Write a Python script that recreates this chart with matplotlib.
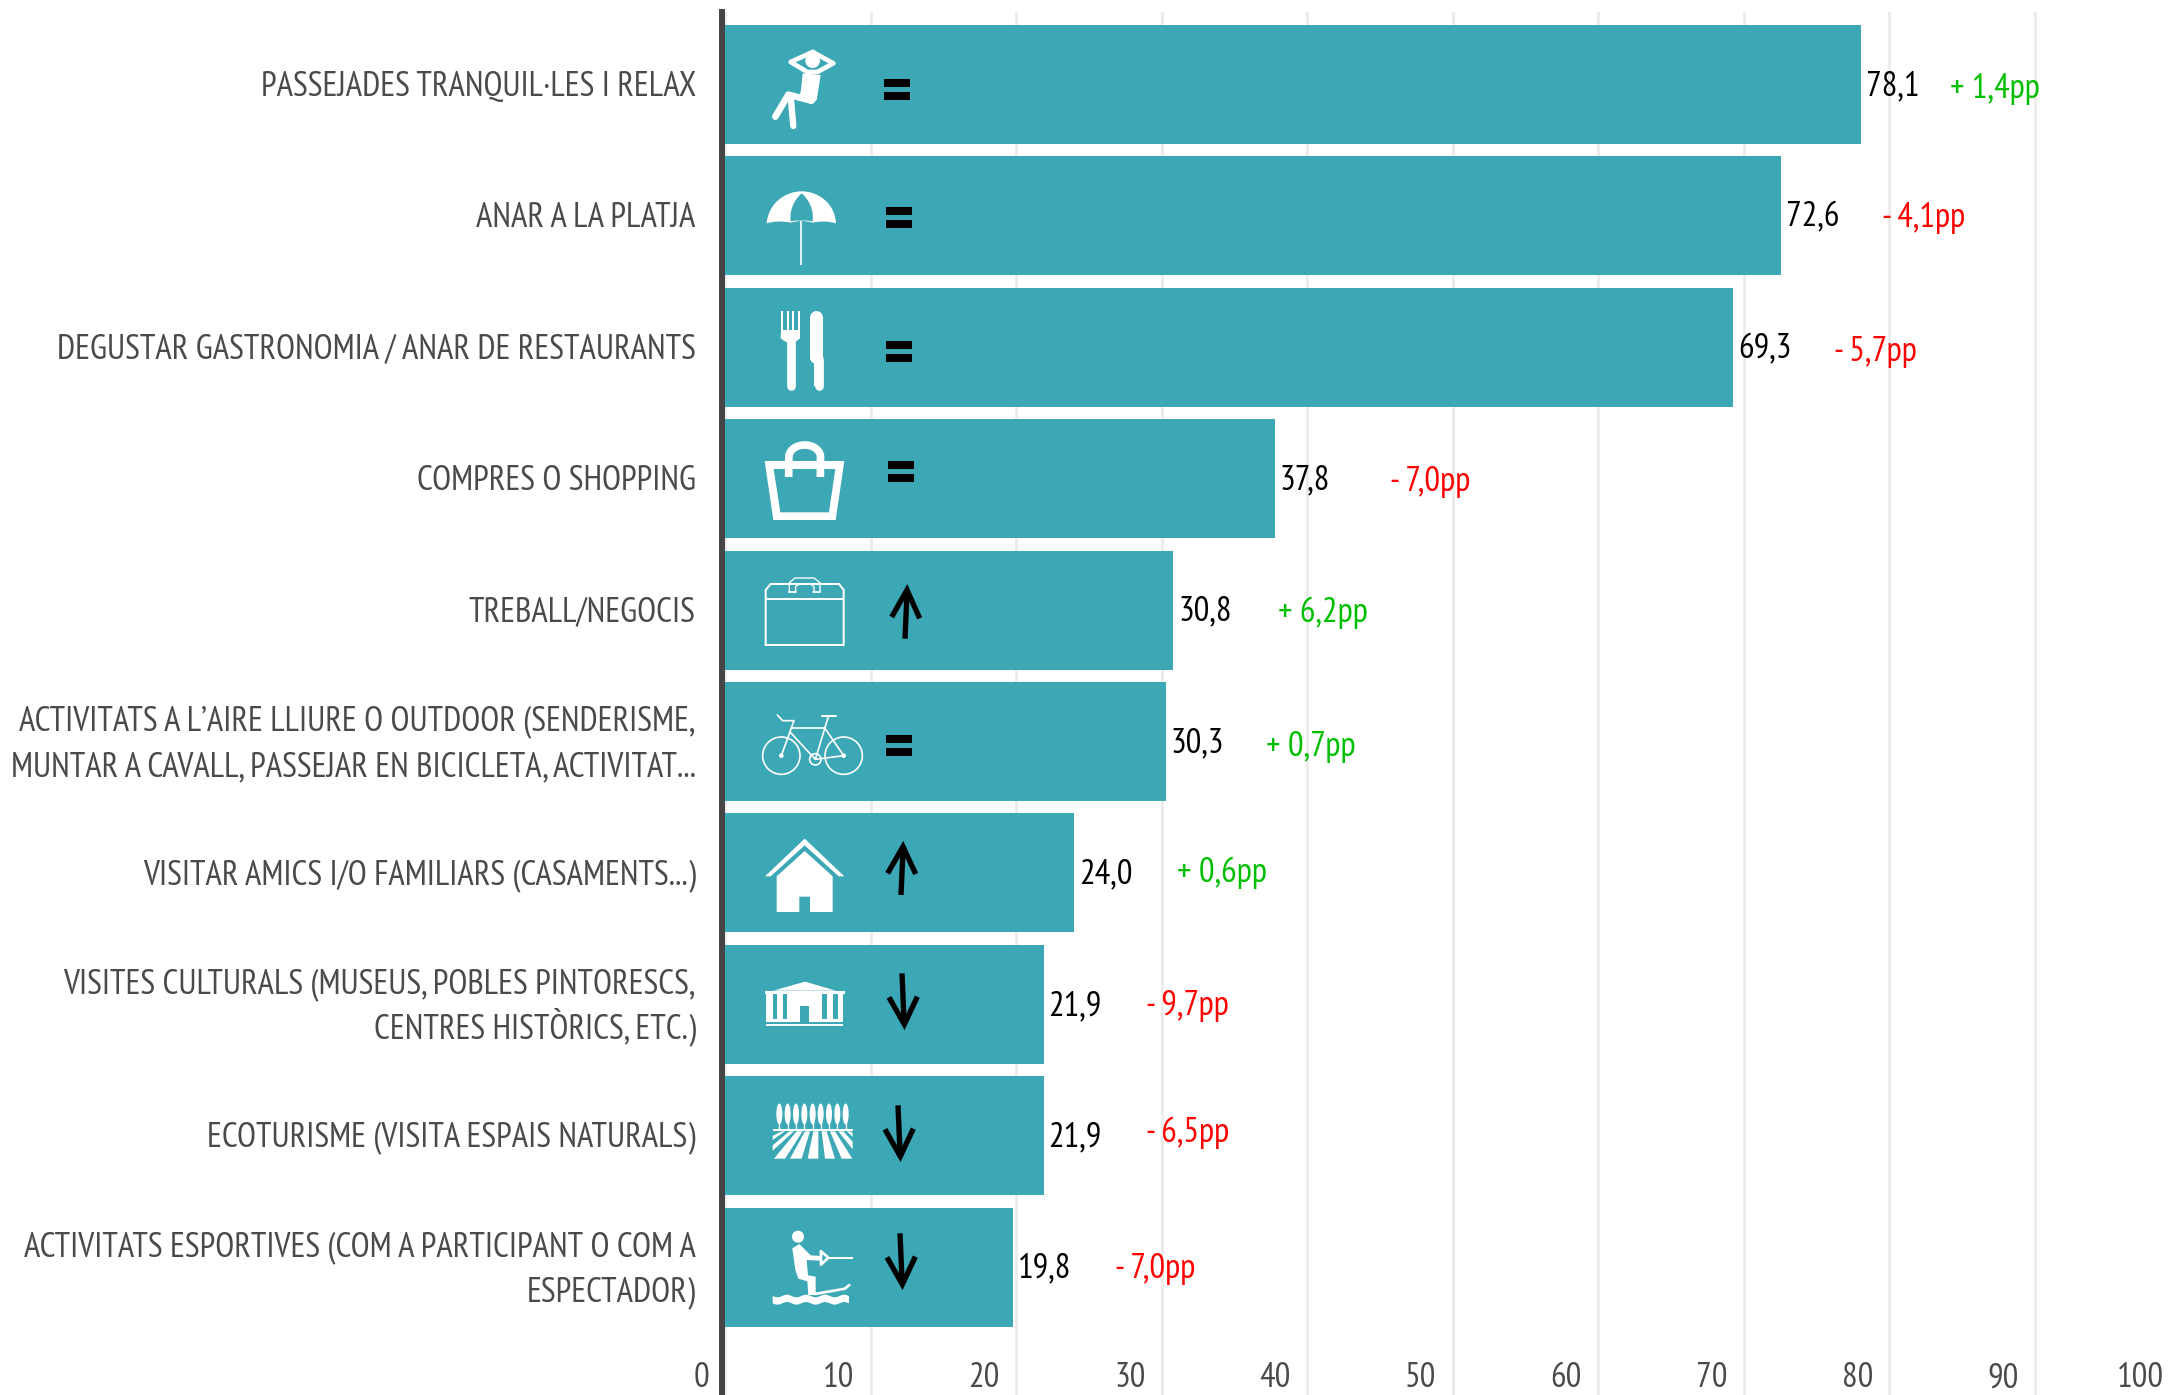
import numpy as np
import matplotlib
matplotlib.use('Agg')
import matplotlib.pyplot as plt
from matplotlib.patches import Polygon, Circle, Ellipse, PathPatch
from matplotlib.path import Path
from matplotlib.transforms import ScaledTranslation

plt.rcParams['font.family'] = ['PT Sans Narrow', 'DejaVu Sans']

categories = ['PASSEJADES TRANQUIL·LES I RELAX', 'ANAR A LA PLATJA',
              'DEGUSTAR GASTRONOMIA / ANAR DE RESTAURANTS', 'COMPRES O SHOPPING',
              'TREBALL/NEGOCIS',
              'ACTIVITATS A L’AIRE LLIURE O OUTDOOR (SENDERISME,\nMUNTAR A CAVALL, PASSEJAR EN BICICLETA, ACTIVITAT...',
              'VISITAR AMICS I/O FAMILIARS (CASAMENTS...)',
              'VISITES CULTURALS (MUSEUS, POBLES PINTORESCS,\nCENTRES HISTÒRICS, ETC.)',
              'ECOTURISME (VISITA ESPAIS NATURALS)',
              'ACTIVITATS ESPORTIVES (COM A PARTICIPANT O COM A\nESPECTADOR)']
values = [78.1, 72.6, 69.3, 37.8, 30.8, 30.3, 24.0, 21.9, 21.9, 19.8]
deltas = ['+ 1,4pp', '- 4,1pp', '- 5,7pp', '- 7,0pp', '+ 6,2pp', '+ 0,7pp', '+ 0,6pp', '- 9,7pp', '- 6,5pp', '- 7,0pp']
ticks = list(range(0, 101, 10))

# where the change labels were put by hand, figure pixels
delta_x = [1950, 1882, 1834, 1390, 1278, 1266, 1177, 1146, 1146, 1115]
delta_y = [89, 218, 352, 482, 613, 747, 873, 1006, 1133, 1269]
# how far each category label is raised, pixels
label_up = [1.5, 1.5, 1.5, 1.5, 1.5, 7, 1.5, 4.5, 1.5, 7]

W, H = 2169, 1395
TEAL = '#3ca7b5'
GREY = '#4a4a4a'
FS = 25

fig = plt.figure(figsize=(W/100, H/100), dpi=100)
ax = fig.add_axes([725/W, 0, 1455/W, (H-12)/H])
y = np.arange(len(values))
ax.barh(y, values, height=119/131.4, color=TEAL, zorder=2)
ax.set_xlim(0, 100)
ax.set_ylim(9.973, -0.552)
ax.grid(axis='x', color='#ececec', lw=2.2, zorder=0)
ax.set_axisbelow(True)
for s in ['top', 'right', 'bottom']:
    ax.spines[s].set_visible(False)
ax.spines['left'].set_color('#454545')
ax.spines['left'].set_linewidth(4.3)
ax.spines['left'].set_position(('outward', 2))
ax.spines['left'].set_zorder(1)

ax.set_yticks(y)
ax.set_yticklabels(categories, fontsize=24.8, color=GREY, ha='right', linespacing=1.5)
ax.tick_params(axis='y', length=0, pad=19)
for lab, u in zip(ax.get_yticklabels(), label_up):
    lab.set_transform(lab.get_transform() + ScaledTranslation(0, u/100, fig.dpi_scale_trans))
# the accent on this one makes its line height bigger
ax.get_yticklabels()[7].set_linespacing(1.22)
ax.set_xticks(ticks)
ax.set_xticklabels([str(t) for t in ticks], fontsize=FS, color=GREY, ha='right')
ax.tick_params(axis='x', length=0, pad=-23.5)
off = ScaledTranslation(-16/100, 0, fig.dpi_scale_trans)
for lab in ax.get_xticklabels():
    lab.set_transform(lab.get_transform() + off)

for i, v in enumerate(values):
    ax.annotate(f'{v:.1f}'.replace('.', ','), (v, i), xytext=(3.5, -1.2), textcoords='offset points',
                va='center', ha='left', fontsize=FS, color='black', zorder=5)

# overlay in figure pixels for the change labels and the pictograms
ov = fig.add_axes([0, 0, 1, 1], facecolor='none')
ov.set_xlim(0, W)
ov.set_ylim(H, 0)
ov.axis('off')

for x0, y0, d in zip(delta_x, delta_y, deltas):
    c = '#00bf00' if d[0] == '+' else '#ff0000'
    ov.text(x0, y0, d, color=c, fontsize=FS, ha='left', va='center')


def Z(pts, oy):
    return [(700 + a/3, oy + b/3) for a, b in pts]


def line(pts, oy, w, c='white', cap='round', join='round'):
    p = Z(pts, oy)
    ov.plot([q[0] for q in p], [q[1] for q in p], color=c, lw=w/3*0.72,
            solid_capstyle=cap, solid_joinstyle=join)


def poly(pts, oy, c='white'):
    ov.add_patch(Polygon(Z(pts, oy), closed=True, fc=c, ec='none'))


def box(x0, y0, x1, y1, oy, c='white'):
    poly([(x0, y0), (x1, y0), (x1, y1), (x0, y1)], oy, c)


def circ(a, b, r, oy, fc='white', ec='none', w=0):
    cx, cy = Z([(a, b)], oy)[0]
    ov.add_patch(Circle((cx, cy), r/3, fc=fc, ec=ec, lw=w/3*0.72))


def curve(verts, codes, oy, c='white'):
    ov.add_patch(PathPatch(Path(Z(verts, oy), codes), fc=c, ec='none'))


def equals(x0, y0, oy):
    box(x0, y0, x0+77, y0+23, oy, 'black')
    box(x0, y0+39, x0+77, y0+62, oy, 'black')


def arrow(shaft, head, oy):
    line(shaft, oy, 16, 'black', cap='butt')
    line(head, oy, 16, 'black', cap='butt', join='miter')


equals(553, 237, 0)
equals(559, 621, 0)
equals(559, 1023, 0)
equals(565, 183, 400)
equals(559, 1005, 400)

arrow([(615, 716), (621, 580)], [(575, 651), (621, 570), (659, 655)], 400)
arrow([(603, 285), (609, 150)], [(563, 220), (609, 140), (647, 222)], 800)
arrow([(606, 160), (612, 300)], [(567, 232), (613, 313), (652, 230)], 920)
arrow([(594, 556), (600, 696)], [(555, 628), (601, 709), (640, 626)], 920)
arrow([(600, 940), (606, 1080)], [(561, 1012), (607, 1093), (646, 1010)], 920)

# sitting man
line([(338, 156), (272, 186), (322, 216), (352, 216), (400, 190), (338, 156)], 0, 14)
circ(338, 182, 22, 0)
poly([(308, 220), (362, 225), (350, 300), (335, 312), (295, 300), (303, 270)], 0)
line([(335, 302), (265, 284), (226, 350)], 0, 20)
line([(272, 290), (280, 378)], 0, 19)

# umbrella
M, C4, C3, CL = Path.MOVETO, Path.CURVE4, Path.CURVE3, Path.CLOSEPOLY
curve([(200, 670), (205, 610), (255, 574), (305, 574), (355, 574), (405, 610), (408, 670),
       (372, 660), (338, 668), (305, 658), (272, 668), (235, 660), (200, 670), (200, 670)],
      [M, C4, C4, C4, C4, C4, C4, C3, C3, C3, C3, C3, C3, CL], 0)
curve([(272, 664), (268, 625), (285, 598), (305, 580), (325, 598), (342, 625), (338, 664),
       (305, 658), (272, 664), (272, 664)],
      [M, C4, C4, C4, C4, C4, C4, C3, C3, CL], 0, TEAL)
line([(304, 662), (304, 795)], 0, 5, cap='butt')

# fork and knife
for tx in [242, 260, 277, 294]:
    box(tx, 933, tx+6, 995, 0)
line([(250, 998), (292, 998)], 0, 16)
box(242, 990, 300, 1005, 0)
poly([(242, 1005), (300, 1005), (300, 1015), (285, 1027), (259, 1027), (242, 1015)], 0)
line([(272, 1025), (272, 1159)], 0, 26)
line([(349, 950), (349, 1070)], 0, 39)
box(330, 1000, 369, 1077, 0)
box(343, 1077, 369, 1159, 0)
line([(356, 1077), (356, 1159)], 0, 26)

# shopping bag
poly([(194, 183), (433, 183), (407, 360), (220, 360)], 400)
poly([(221, 207), (406, 207), (387, 337), (241, 337)], 400, TEAL)
t = np.linspace(np.pi, 0, 30)
line([(266, 231)] + [(314+47.5*np.cos(a), 171-36*np.sin(a)) for a in t] + [(361, 231)], 400, 23, cap='butt')

# briefcase
line([(197, 735), (197, 570), (212, 552), (417, 552), (431, 570), (431, 735), (197, 735)], 400, 6, join='miter')
line([(197, 598), (431, 598)], 400, 6, cap='butt')
poly([(268, 576), (268, 548), (285, 534), (342, 534), (360, 548), (360, 576)], 400, TEAL)
line([(268, 576), (268, 548), (285, 534), (342, 534), (360, 548), (360, 576)], 400, 4)
line([(287, 576), (287, 560), (297, 552), (332, 552), (342, 560), (342, 576)], 400, 4)
line([(268, 577), (289, 577)], 400, 5)
line([(339, 577), (360, 577)], 400, 5)

# bicycle
circ(244, 1067, 56, 400, 'none', 'white', 5)
circ(431, 1067, 56, 400, 'none', 'white', 5)
circ(346, 1078, 17, 400, 'none', 'white', 5)
circ(244, 1067, 7, 400)
circ(431, 1067, 7, 400)
line([(244, 1067), (282, 962), (248, 962), (232, 945)], 400, 5)
line([(275, 985), (375, 985)], 400, 5)
line([(272, 998), (346, 1078)], 400, 5)
line([(385, 950), (346, 1078)], 400, 5)
line([(375, 985), (431, 1067), (346, 1078)], 400, 5)
line([(365, 948), (408, 948)], 400, 6)

# house
poly([(195, 229), (314, 116), (433, 229), (416, 229), (314, 136), (212, 229)], 800)
poly([(230, 229), (314, 153), (398, 229), (398, 336), (330, 336), (330, 290), (298, 290), (298, 336), (230, 336)], 800)

# museum
poly([(220, 212), (315, 185), (408, 212)], 920)
box(194, 213, 434, 221, 920)
for a, b in [(198, 218), (232, 248), (262, 366), (382, 400), (415, 430)]:
    box(a, 221, b, 298, 920)
box(198, 298, 430, 306, 920)
box(300, 258, 328, 306, 920, TEAL)
box(198, 311, 430, 319, 920)

# field with trees
for tx in [238, 263, 288, 313, 338, 362, 387, 412, 437]:
    cx, cy = Z([(tx, 582)], 920)[0]
    ov.add_patch(Ellipse((cx, cy), 6, 21, fc='white', ec='none'))
    line([(tx, 600), (tx, 630)], 920, 4, cap='butt')
box(218, 628, 458, 632, 920)
for st in [[(218, 648), (245, 634), (255, 634), (218, 660)],
           [(218, 676), (268, 634), (282, 634), (218, 692)],
           [(222, 716), (290, 634), (308, 634), (255, 716)],
           [(270, 716), (315, 634), (330, 634), (305, 716)],
           [(323, 716), (340, 634), (355, 634), (355, 716)],
           [(375, 716), (365, 634), (380, 634), (405, 716)],
           [(425, 716), (390, 634), (405, 634), (457, 716)],
           [(458, 688), (415, 634), (430, 634), (458, 665)],
           [(458, 650), (440, 634), (452, 634), (458, 640)]]:
    poly(st, 920)

# water skier
circ(294, 950, 18, 920)
poly([(277, 985), (298, 972), (332, 1006), (362, 1008), (362, 1022), (320, 1020), (324, 1066), (347, 1070),
      (347, 1125), (325, 1125), (322, 1084), (295, 1076), (286, 1050)], 920)
line([(363, 994), (385, 1013), (363, 1034), (363, 994)], 920, 8)
line([(385, 1013), (458, 1013)], 920, 6, cap='butt')
line([(345, 1122), (435, 1106), (448, 1095)], 920, 8)
wx = np.linspace(218, 447, 40)
top = 1128 + 4*np.sin((wx-218)/229*4*2*np.pi)
poly(list(zip(wx, top)) + list(zip(wx[::-1], top[::-1]+22)), 920)

plt.savefig('out.png', dpi=100)
